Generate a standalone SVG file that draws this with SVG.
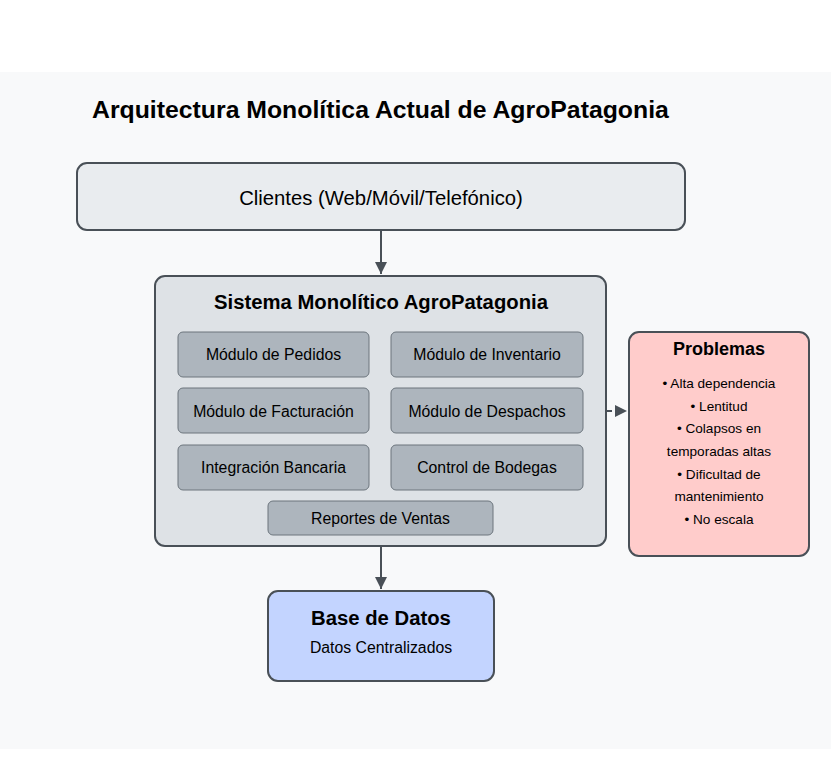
<svg xmlns="http://www.w3.org/2000/svg" width="831" height="772" viewBox="0 0 831 772">
<style>
text{font-family:"Liberation Sans",Arial,sans-serif;fill:#000;text-anchor:middle}
.box{stroke:#495057;stroke-width:2}
.mod{fill:#adb5bd;stroke:#6c757d;stroke-width:1}
.mt{font-size:15.8px}
.pt{font-size:13.6px}
.conn{stroke:#495057;stroke-width:2;fill:none}
</style>
<defs>
<marker id="ah" viewBox="0 0 10 10" refX="10" refY="5" markerWidth="6" markerHeight="6" orient="auto" markerUnits="strokeWidth">
<path d="M0,0 L10,5 L0,10 z" fill="#495057"/>
</marker>
</defs>
<rect x="0" y="0" width="831" height="772" fill="#ffffff"/>
<rect x="0" y="72" width="831" height="677" fill="#f8f9fa"/>
<text x="92" y="118" style="font-size:24.8px;font-weight:bold;text-anchor:start">Arquitectura Monolítica Actual de AgroPatagonia</text>

<g id="connectors">
<line class="conn" x1="381" y1="231" x2="381" y2="274" marker-end="url(#ah)"/>
<line class="conn" x1="381" y1="547" x2="381" y2="589" marker-end="url(#ah)"/>
<line class="conn" x1="607" y1="411" x2="627" y2="411" stroke-dasharray="5,5" marker-end="url(#ah)"/>
</g>

<g id="clientes">
<rect class="box" x="77" y="163" width="608" height="67" rx="10" fill="#e9ecef"/>
<text x="381" y="205" style="font-size:20.3px">Clientes (Web/Móvil/Telefónico)</text>
</g>

<g id="monolito">
<rect class="box" x="155" y="276" width="451" height="270" rx="10" fill="#dee2e6"/>
<text x="381" y="309" style="font-size:20.3px;font-weight:bold">Sistema Monolítico AgroPatagonia</text>
</g>

<g id="mod-pedidos">
<rect class="mod" x="178" y="332" width="191" height="45" rx="5"/>
<text class="mt" x="273.5" y="360">Módulo de Pedidos</text>
</g>
<g id="mod-inventario">
<rect class="mod" x="391" y="332" width="192" height="45" rx="5"/>
<text class="mt" x="487" y="360">Módulo de Inventario</text>
</g>
<g id="mod-facturacion">
<rect class="mod" x="178" y="388" width="191" height="45" rx="5"/>
<text class="mt" x="273.5" y="417">Módulo de Facturación</text>
</g>
<g id="mod-despachos">
<rect class="mod" x="391" y="388" width="192" height="45" rx="5"/>
<text class="mt" x="487" y="417">Módulo de Despachos</text>
</g>
<g id="mod-bancaria">
<rect class="mod" x="178" y="445" width="191" height="45" rx="5"/>
<text class="mt" x="273.5" y="473">Integración Bancaria</text>
</g>
<g id="mod-bodegas">
<rect class="mod" x="391" y="445" width="192" height="45" rx="5"/>
<text class="mt" x="487" y="473">Control de Bodegas</text>
</g>
<g id="mod-reportes">
<rect class="mod" x="268" y="501" width="225" height="34" rx="5"/>
<text class="mt" x="380.5" y="524">Reportes de Ventas</text>
</g>

<g id="problemas">
<rect class="box" x="629" y="332" width="180" height="224" rx="10" fill="#ffcccb"/>
<text x="719" y="355" style="font-size:18px;font-weight:bold">Problemas</text>
<text class="pt" x="719" y="388">• Alta dependencia</text>
<text class="pt" x="719" y="411">• Lentitud</text>
<text class="pt" x="719" y="433">• Colapsos en</text>
<text class="pt" x="719" y="456">temporadas altas</text>
<text class="pt" x="719" y="479">• Dificultad de</text>
<text class="pt" x="719" y="501">mantenimiento</text>
<text class="pt" x="719" y="524">• No escala</text>
</g>

<g id="basedatos">
<rect class="box" x="268" y="591" width="226" height="90" rx="10" fill="#c3d4ff"/>
<text x="381" y="625" style="font-size:20.3px;font-weight:bold">Base de Datos</text>
<text x="381" y="653" style="font-size:15.8px">Datos Centralizados</text>
</g>
</svg>
